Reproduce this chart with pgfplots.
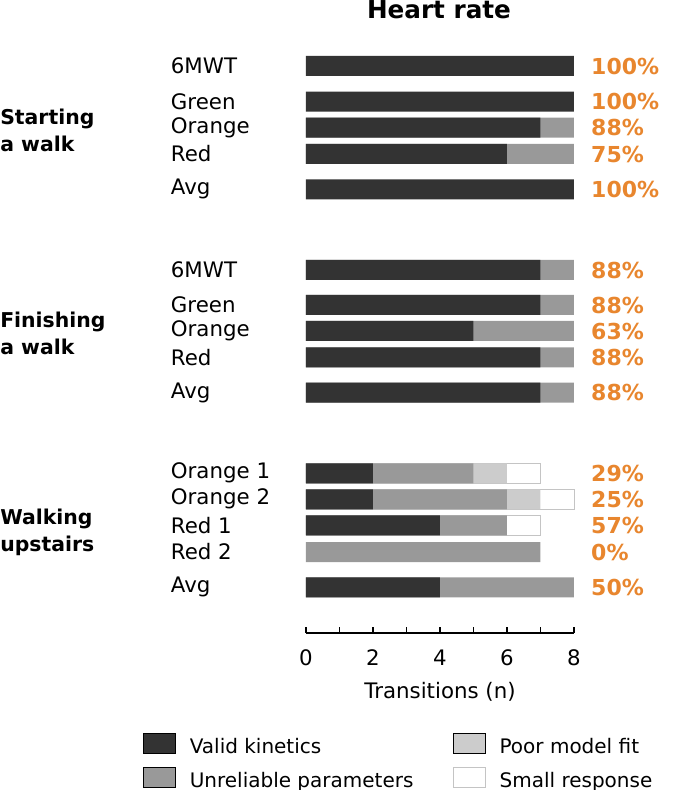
\documentclass[border=0pt]{standalone}
\usepackage{pgfplots}
\pgfplotsset{compat=1.18}
\usepackage{fontspec}
\setmainfont{DejaVu Sans}
\definecolor{cvalid}{HTML}{333333}
\definecolor{cunrel}{HTML}{999999}
\definecolor{cpoor}{HTML}{CCCCCC}
\definecolor{cedge}{HTML}{C4C4C4}
\definecolor{corange}{HTML}{E8862E}
\newcommand\lbl{\fontsize{16}{20}\selectfont}
\newcommand\grp{\fontsize{15.3}{20.25}\selectfont\bfseries}
\newcommand\leg{\fontsize{15}{18}\selectfont}

\begin{document}
\begin{tikzpicture}
\useasboundingbox (0pt,0pt) rectangle (510pt,592.5pt);
\begin{axis}[
  at={(229.5pt,117.75pt)}, anchor=south west,
  scale only axis, width=201pt, height=444.75pt,
  xmin=0, xmax=8, ymin=-633, ymax=-40,
  axis x line*=bottom, axis y line=none,
  clip=false,
  xtick={0,2,4,6,8}, minor xtick={1,3,5,7},
  tick align=inside, major tick length=4.5pt, minor tick length=4.5pt,
  tick style={black, line width=0.9pt},
  axis line style={black, line width=0.9pt},
  /pgf/number format/assume math mode=true,
  xticklabel style={font=\lbl, anchor=base, inner sep=0pt, yshift=-24pt},
  xlabel={Transitions (n)},
  xlabel style={font=\lbl, at={(axis description cs:0.5,0)}, anchor=base, inner sep=0pt, yshift=-48.75pt},
  every axis plot/.append style={xbar, bar width=20, forget plot},
  legend style={at={(axis description cs:-0.6082,-0.1686)}, anchor=north west,
    draw=none, fill=none, inner sep=0pt, font=\leg,
    nodes={inner sep=0pt},
    row sep=8.4pt, column sep=0pt,
    /tikz/every odd column/.append style={column sep=10.5pt},
    /tikz/every even column/.append style={column sep=29.5pt}},
  legend cell align=left,
  legend columns=2, transpose legend,
  legend image code/.code={\draw[#1] (0pt,-4.7pt) rectangle (24pt,10.3pt);},
]
\addlegendimage{fill=cvalid, draw=none}
\addlegendentry{Valid kinetics}
\addlegendimage{fill=cunrel, draw=none}
\addlegendentry{Unreliable parameters}
\addlegendimage{fill=cpoor, draw=none}
\addlegendentry{Poor model fit}
\addlegendimage{fill=white, draw=cedge, line width=0.6pt}
\addlegendentry{Small response}

% small response: bar ends at total
\addplot[fill=white, draw=cedge, line width=0.6pt] coordinates {
  (7,-473.3) (8,-499.3) (7,-525.3)
};
% poor model fit: cumulative end
\addplot[fill=cpoor, draw=none] coordinates {
  (6,-473.3) (7,-499.3)
};
% unreliable parameters: cumulative end
\addplot[fill=cunrel, draw=none] coordinates {
  (8,-127.7) (8,-154)
  (8,-270) (8,-305) (8,-331) (8,-357.3) (8,-392.7)
  (5,-473.3) (6,-499.3) (6,-525.3) (7,-552) (8,-587.3)
};
% valid kinetics
\addplot[fill=cvalid, draw=none] coordinates {
  (8,-66) (8,-101.7) (7,-127.7) (6,-154) (8,-189.3)
  (7,-270) (7,-305) (5,-331) (7,-357.3) (7,-392.7)
  (2,-473.3) (2,-499.3) (4,-525.3) (4,-587.3)
};

% title
\node[font=\fontsize{18.5}{20}\selectfont\bfseries, anchor=base, inner sep=0pt] at (axis cs:3.97,-18.3) {Heart rate};

% group labels
\node[font=\grp, anchor=west, align=left, inner sep=0pt] at (axis cs:-9.134,-130.5) {Starting\\a walk};
\node[font=\grp, anchor=west, align=left, inner sep=0pt] at (axis cs:-9.134,-333.5) {Finishing\\a walk};
\node[font=\grp, anchor=west, align=left, inner sep=0pt] at (axis cs:-9.134,-532.5) {Walking\\upstairs};

% row labels
\begin{scope}[every node/.style={font=\lbl, anchor=west, inner sep=0pt}]
\node at (axis cs:-4.04,-66) {6MWT};
\node at (axis cs:-4.04,-101.7) {Green};
\node at (axis cs:-4.04,-127.7) {Orange};
\node at (axis cs:-4.04,-154) {Red};
\node at (axis cs:-4.04,-189.3) {Avg};
\node at (axis cs:-4.04,-270) {6MWT};
\node at (axis cs:-4.04,-305) {Green};
\node at (axis cs:-4.04,-331) {Orange};
\node at (axis cs:-4.04,-357.3) {Red};
\node at (axis cs:-4.04,-392.7) {Avg};
\node at (axis cs:-4.04,-473.3) {Orange 1};
\node at (axis cs:-4.04,-499.3) {Orange 2};
\node at (axis cs:-4.04,-525.3) {Red 1};
\node at (axis cs:-4.04,-552) {Red 2};
\node at (axis cs:-4.04,-587.3) {Avg};
\end{scope}

% percentages
\begin{scope}[every node/.style={font=\fontsize{16.5}{20}\selectfont\bfseries, text=corange, anchor=west, inner sep=0pt}]
\node at (axis cs:8.507,-66) {100\%};
\node at (axis cs:8.507,-101.7) {100\%};
\node at (axis cs:8.507,-127.7) {88\%};
\node at (axis cs:8.507,-154) {75\%};
\node at (axis cs:8.507,-189.3) {100\%};
\node at (axis cs:8.507,-270) {88\%};
\node at (axis cs:8.507,-305) {88\%};
\node at (axis cs:8.507,-331) {63\%};
\node at (axis cs:8.507,-357.3) {88\%};
\node at (axis cs:8.507,-392.7) {88\%};
\node at (axis cs:8.507,-473.3) {29\%};
\node at (axis cs:8.507,-499.3) {25\%};
\node at (axis cs:8.507,-525.3) {57\%};
\node at (axis cs:8.507,-552) {0\%};
\node at (axis cs:8.507,-587.3) {50\%};
\end{scope}
\end{axis}
\end{tikzpicture}
\end{document}
